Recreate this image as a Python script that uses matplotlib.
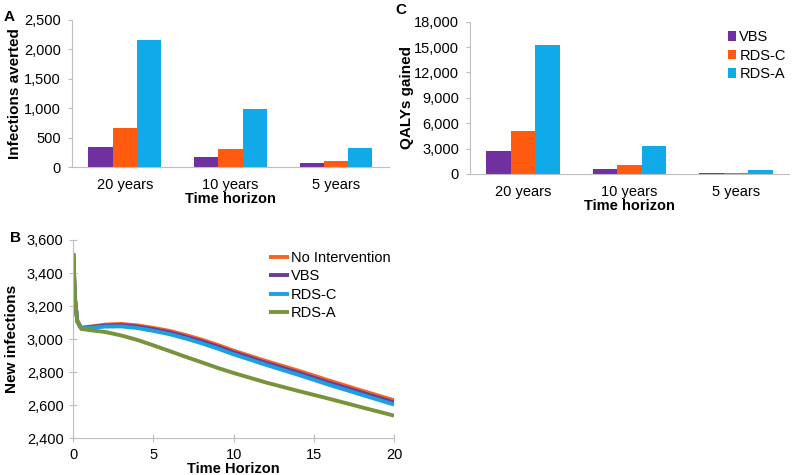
import matplotlib.pyplot as plt
import numpy as np
from matplotlib.ticker import FuncFormatter

plt.rcParams['font.family'] = ['Liberation Sans', 'DejaVu Sans']

horizons = ['20 years', '10 years', '5 years']
strategies = ['VBS', 'RDS-C', 'RDS-A']
bar_colors = ['#7030A0', '#FF5A10', '#11AAE8']

# panel A: infections averted
infections_averted = {
    'VBS': [345, 175, 63],
    'RDS-C': [663, 306, 107],
    'RDS-A': [2160, 981, 318],
}
# panel C: QALYs gained
qalys_gained = {
    'VBS': [2680, 590, 80],
    'RDS-C': [5045, 1060, 150],
    'RDS-A': [15250, 3270, 430],
}

# panel B: new infections over time
t = [0, 0.1, 0.25, 0.5, 1, 2, 3, 4, 5, 6, 7, 8, 9, 10, 12, 14, 16, 18, 20]
no_intervention = [3520, 3250, 3110, 3068, 3075, 3088, 3092, 3083, 3068, 3050, 3025,
                   2997, 2965, 2930, 2868, 2810, 2748, 2688, 2630]
vbs = [3520, 3250, 3110, 3067, 3072, 3082, 3085, 3076, 3060, 3041, 3015,
       2987, 2955, 2920, 2857, 2798, 2735, 2676, 2617]
rds_c = [3520, 3250, 3108, 3065, 3068, 3076, 3077, 3067, 3050, 3030, 3004,
         2975, 2943, 2908, 2845, 2785, 2722, 2663, 2604]
rds_a = [3520, 3250, 3105, 3062, 3055, 3043, 3022, 2995, 2962, 2928, 2893,
         2860, 2826, 2795, 2738, 2687, 2638, 2587, 2537]
line_series = [('No Intervention', no_intervention, '#F26522'),
               ('VBS', vbs, '#6A3D9A'),
               ('RDS-C', rds_c, '#1BA1E2'),
               ('RDS-A', rds_a, '#77933C')]

axis_grey = '#BFBFBF'
comma = FuncFormatter(lambda v, p: '{:,.0f}'.format(v))

fig = plt.figure(figsize=(8, 4.75), dpi=100)


def bar_panel(ax, data, ylim, yticks, ylabel):
    x = np.arange(len(horizons))
    w = 0.23
    for i, s in enumerate(strategies):
        ax.bar(x + (i - 1) * w, data[s], w, color=bar_colors[i], label=s)
    ax.set_xlim(-0.5, 2.5)
    ax.set_ylim(*ylim)
    ax.set_yticks(yticks)
    ax.yaxis.set_major_formatter(comma)
    ax.set_xticks(x)
    ax.set_xticklabels(horizons)
    for sp in ['top', 'right']:
        ax.spines[sp].set_visible(False)
    for sp in ['left', 'bottom']:
        ax.spines[sp].set_color(axis_grey)
    ax.tick_params(axis='x', length=0, labelsize=10.5, pad=8)
    ax.tick_params(axis='y', length=3, color=axis_grey, labelsize=10.5, pad=5)
    ax.set_xlabel('Time horizon', labelpad=0, fontweight='bold', fontsize=10.5)
    ax.set_ylabel(ylabel, fontweight='bold', fontsize=11)


axA = fig.add_axes([0.09, 0.6484, 0.396, 0.3095])
bar_panel(axA, infections_averted, (0, 2500), np.arange(0, 2501, 500), 'Infections averted')
axA.yaxis.set_label_coords(-0.158, 0.5)

axC = fig.add_axes([0.5875, 0.6337, 0.399, 0.3206])
bar_panel(axC, qalys_gained, (0, 18000), np.arange(0, 18001, 3000), 'QALYs gained')
axC.yaxis.set_label_coords(-0.175, 0.5)
axC.legend(loc='upper right', bbox_to_anchor=(1.03, 1.03), frameon=False, fontsize=10.5,
           handlelength=0.6, handleheight=0.6, handletextpad=0.2, labelspacing=0.3)

axB = fig.add_axes([0.0916, 0.0773, 0.401, 0.4175])
for name, vals, col in line_series:
    axB.plot(t, vals, color=col, lw=2.8, label=name, solid_capstyle='butt')
axB.set_xlim(0, 20)
axB.set_ylim(2400, 3600)
axB.set_xticks([0, 5, 10, 15, 20])
axB.set_yticks(np.arange(2400, 3601, 200))
axB.yaxis.set_major_formatter(comma)
for sp in ['top', 'right']:
    axB.spines[sp].set_visible(False)
for sp in ['left', 'bottom']:
    axB.spines[sp].set_color(axis_grey)
axB.tick_params(direction='inout', length=6, color=axis_grey, labelsize=10.5)
axB.tick_params(axis='y', pad=4)
axB.tick_params(axis='x', pad=4)
axB.set_xlabel('Time Horizon', labelpad=0, fontweight='bold', fontsize=10.5)
axB.set_ylabel('New infections', fontweight='bold', fontsize=11)
axB.yaxis.set_label_coords(-0.168, 0.5)
axB.legend(loc='upper right', bbox_to_anchor=(1.03, 1.01), frameon=False, fontsize=10.5,
           handlelength=1.4, handletextpad=0.1, labelspacing=0.3)

fig.text(0.005, 0.955, 'A', fontweight='bold', fontsize=11)
fig.text(0.494, 0.97, 'C', fontweight='bold', fontsize=11)
fig.text(0.012, 0.49, 'B', fontweight='bold', fontsize=11)

fig.savefig('out.png', dpi=100)
